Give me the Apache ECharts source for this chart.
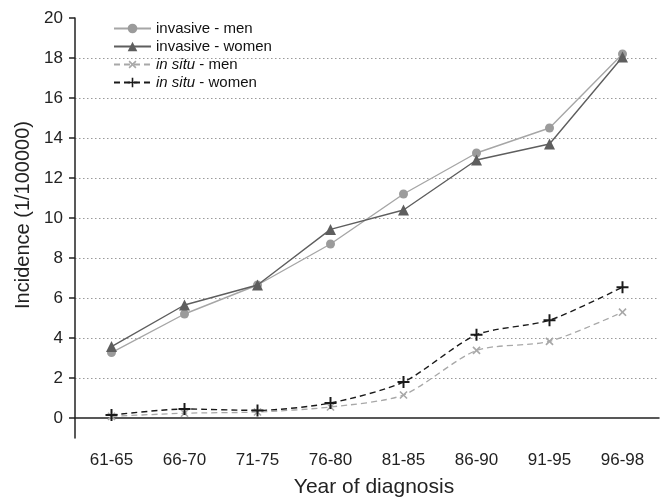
<!DOCTYPE html>
<html>
<head>
<meta charset="utf-8">
<script src="https://cdn.jsdelivr.net/npm/echarts@6/dist/echarts.min.js"></script>
<style>
  html, body { margin: 0; padding: 0; background: #fff; }
  #chart { width: 660px; height: 500px; }
</style>
</head>
<body>
<div id="chart"></div>
<script>
  // data
  var periods = ['61-65', '66-70', '71-75', '76-80', '81-85', '86-90', '91-95', '96-98'];
  var invasiveMen = [3.27, 5.2, 6.65, 8.7, 11.2, 13.25, 14.5, 18.2];
  var invasiveWomen = [3.57, 5.65, 6.65, 9.43, 10.4, 12.9, 13.7, 18.05];
  var inSituMen = [0.08, 0.24, 0.3, 0.55, 1.15, 3.38, 3.83, 5.29];
  var inSituWomen = [0.15, 0.45, 0.38, 0.75, 1.8, 4.16, 4.89, 6.54];
  var yMajorTicks = [0, 2, 4, 6, 8, 10, 12, 14, 16, 18, 20];

  var font = 'Liberation Sans';
  var plusPath = 'path://M4.6,0H6.4V11H4.6ZM0,4.6H11V6.4H0Z';

  var chart = echarts.init(document.getElementById('chart'));
  var option = {
    animation: false,
    backgroundColor: '#fff',
    textStyle: { fontFamily: font },
    legend: {
      orient: 'vertical',
      left: 108,
      top: 16,
      itemWidth: 37,
      itemHeight: 12,
      itemGap: 3,
      textStyle: {
        fontFamily: font,
        fontSize: 15,
        color: '#111',
        rich: {
          i: { fontFamily: font, fontSize: 15, fontStyle: 'italic', color: '#111' }
        }
      },
      formatter: function (name) {
        return name.replace('in situ', '{i|in situ}');
      },
      data: ['invasive - men', 'invasive - women', 'in situ - men', 'in situ - women']
    },
    grid: { left: 75, right: 1, top: 18, bottom: 62, containLabel: false, outerBoundsMode: 'none' },
    xAxis: [{
      type: 'category',
      data: periods,
      boundaryGap: true,
      name: 'Year of diagnosis',
      nameLocation: 'middle',
      nameGap: 39,
      nameTextStyle: { fontFamily: font, fontSize: 21, color: '#222', padding: [0, 0, 0, 14] },
      axisLine: { lineStyle: { color: '#222', width: 1.5 } },
      axisTick: { alignWithLabel: true, length: 6, lineStyle: { color: '#222', width: 1.5 } },
      axisLabel: { margin: 14, fontFamily: font, fontSize: 17, color: '#222' },
      splitLine: { show: false }
    }, {
      type: 'category',
      data: periods,
      position: 'bottom',
      boundaryGap: true,
      axisLine: { show: false },
      axisTick: { alignWithLabel: false, length: 4, lineStyle: { color: '#222', width: 1.2 } },
      axisLabel: { show: false },
      splitLine: { show: false }
    }],
    yAxis: [{
      type: 'value',
      min: -1,
      max: 20,
      interval: 1,
      name: 'Incidence (1/100000)',
      nameLocation: 'middle',
      nameGap: 41,
      nameTextStyle: { fontFamily: font, fontSize: 20, color: '#222', padding: [0, 0, 0, 26] },
      axisLine: { show: true, lineStyle: { color: '#222', width: 1.5 } },
      axisTick: { length: 4, lineStyle: { color: '#222', width: 1.2 } },
      axisLabel: {
        margin: 12,
        fontFamily: font,
        fontSize: 17,
        color: '#222',
        formatter: function (v) {
          return (v >= 0 && v % 2 === 0) ? String(v) : '';
        }
      },
      splitLine: { show: false }
    }, {
      type: 'value',
      position: 'left',
      min: -1,
      max: 20,
      interval: 1,
      axisLine: { show: false },
      axisTick: { show: true, customValues: yMajorTicks, length: 6, lineStyle: { color: '#222', width: 1.5 } },
      axisLabel: { show: false },
      splitLine: {
        show: true,
        showMinLine: false,
        showMaxLine: false,
        lineStyle: { type: [1.5, 2.5], color: '#9a9a9a', width: 1 }
      }
    }],
    series: [{
      name: 'invasive - men',
      type: 'line',
      data: invasiveMen,
      symbol: 'circle',
      symbolSize: 9,
      itemStyle: { color: '#9b9b9b' },
      lineStyle: { color: '#a6a6a6', width: 1.4 },
      z: 3
    }, {
      name: 'invasive - women',
      type: 'line',
      data: invasiveWomen,
      symbol: 'triangle',
      symbolSize: 11,
      itemStyle: { color: '#5e5e5e' },
      lineStyle: { color: '#5e5e5e', width: 1.4 },
      z: 4
    }, {
      name: 'in situ - men',
      type: 'line',
      data: inSituMen,
      symbol: plusPath,
      symbolRotate: 45,
      symbolSize: 10,
      smooth: 0.25,
      itemStyle: { color: '#a8a8a8' },
      lineStyle: { color: '#a8a8a8', width: 1.3, type: [6, 4] },
      z: 3
    }, {
      name: 'in situ - women',
      type: 'line',
      data: inSituWomen,
      symbol: plusPath,
      symbolSize: 12,
      smooth: 0.25,
      itemStyle: { color: '#1a1a1a' },
      lineStyle: { color: '#1a1a1a', width: 1.4, type: [6, 4] },
      z: 4
    }]
  };
  chart.setOption(option);
</script>
</body>
</html>
